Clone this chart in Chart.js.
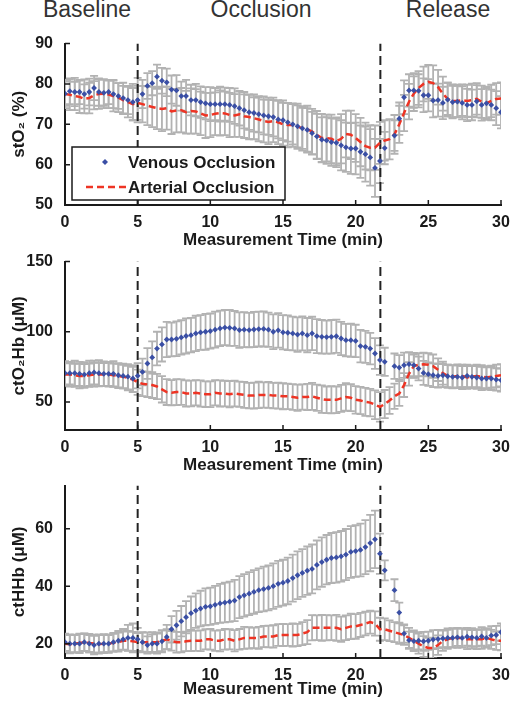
<!DOCTYPE html>
<html>
<head>
<meta charset="utf-8">
<title>Occlusion NIRS</title>
<script src="https://cdn.jsdelivr.net/npm/chart.js"></script>
<style>
  body { margin: 0; background: #fff; width: 510px; height: 701px; position: relative; overflow: hidden; }
  .phase { position: absolute; top: -2px; font: 23px "Liberation Sans", Arial, sans-serif; color: #333; line-height: 22px; white-space: nowrap; transform: translateX(-50%); }
  canvas { position: absolute; left: 0; }
</style>
</head>
<body>
<div class="phase" style="left:87px">Baseline</div>
<div class="phase" style="left:261px">Occlusion</div>
<div class="phase" style="left:448px">Release</div>
<canvas id="stChart" width="510" height="221" style="top:30px"></canvas>
<canvas id="o2Chart" width="510" height="228" style="top:248px"></canvas>
<canvas id="hhChart" width="510" height="228" style="top:472px"></canvas>
<script>
// measurement time (min)
const time = [
  0, 0.33, 0.67, 1, 1.33, 1.67, 2, 2.33, 2.67, 3, 3.33, 3.67, 4, 4.33, 4.67,
  5, 5.33, 5.67, 6, 6.33, 6.67, 7, 7.33, 7.67, 8, 8.33, 8.67, 9, 9.33, 9.67,
  10, 10.33, 10.67, 11, 11.33, 11.67, 12, 12.33, 12.67, 13, 13.33, 13.67, 14, 14.33, 14.67,
  15, 15.33, 15.67, 16, 16.33, 16.67, 17, 17.33, 17.67, 18, 18.33, 18.67, 19, 19.33, 19.67,
  20, 20.33, 20.67, 21, 21.33, 21.67, 22, 22.33, 22.67, 23, 23.33, 23.67, 24, 24.33, 24.67,
  25, 25.33, 25.67, 26, 26.33, 26.67, 27, 27.33, 27.67, 28, 28.33, 28.67, 29, 29.33, 29.67,
  30
];
const phaseLines = [5, 21.7];
const xTicks = [0, 5, 10, 15, 20, 25, 30];

// stO2 (%)
const stVen = [
  77.6, 78.2, 78.0, 78.0, 77.5, 78.0, 79.0, 78.0, 77.8, 78.0, 77.5, 77.0, 76.5, 76.0, 75.5,
  76.0, 77.5, 79.5, 80.2, 81.8, 80.8, 80.4, 78.6, 78.4, 77.0, 77.0, 76.0, 76.0, 75.5, 75.2,
  75.0, 75.0, 75.0, 75.0, 74.8, 74.5, 74.0, 73.5, 73.0, 72.8, 72.5, 72.2, 72.0, 71.8, 71.2,
  71.0, 70.5, 70.0, 69.5, 69.0, 68.6, 67.8, 67.0, 66.2, 66.0, 65.6, 65.4, 64.8, 64.3, 64.0,
  64.0, 63.2, 62.6, 61.8, 59.2, 60.9, 64.1, null, 67.2, 71.4, 76.7, 78.4, 78.4, 78.3, 77.2,
  77.2, 75.9, 76.0, 75.3, 76.1, 75.5, 75.6, 75.3, 74.8, 74.8, 75.7, 74.8, 75.2, 74.8, 74.0,
  73.0
];
const stArt = [
  77.5, 77.3, 77.0, 76.8, 76.3, 76.5, 77.2, 77.5, 77.6, 77.4, 77.0, 76.6, 76.0, 75.5, 75.0,
  75.3, 75.0, 74.6, 74.3, 74.0, 73.8, 74.0, 73.2, 73.4, 73.5, 73.0, 73.3, 73.2, 72.7, 72.2,
  72.3, 72.6, 72.8, 72.7, 72.3, 72.2, 72.5, 72.0, 71.8, 71.5, 71.2, 70.8, 70.6, 70.8, 70.5,
  70.0, 69.8, 69.8, 69.5, 69.0, 68.8, 68.2, 67.4, 66.6, 66.6, 66.4, 65.8, 66.4, 67.6, 67.4,
  66.6, 65.6, 64.6, 64.2, 64.2, 65.4, 66.0, 66.3, 67.5, 70.0, 72.8, 75.6, 77.6, 79.0, 80.0,
  80.5, 80.2, 79.2, 77.6, 76.3, 75.8, 75.8, 76.0, 75.8, 76.0, 76.3, 75.6, 75.2, 75.8, 76.3,
  76.4
];
const stVenErr = [
  3.0, 3.2, 3.5, 3.0, 3.6, 3.3, 3.0, 3.4, 3.2, 3.0, 3.5, 3.2, 3.8, 3.5, 4.5,
  5.5, 3.5, 3.2, 3.0, 3.0, 3.2, 3.4, 3.5, 3.8, 3.6, 4.0, 3.8, 4.0, 3.9, 4.0,
  4.2, 4.0, 4.3, 4.1, 4.2, 4.4, 4.3, 4.5, 4.4, 4.6, 4.5, 4.7, 4.6, 4.8, 4.7,
  4.9, 4.8, 5.0, 5.2, 5.1, 5.4, 5.3, 5.6, 5.5, 5.8, 5.9, 6.0, 6.2, 6.1, 6.3,
  6.4, 6.5, 6.8, 7.0, 7.2, 5.5, 4.0, null, 3.8, 4.0, 4.2, 4.0, 4.3, 4.1, 4.2,
  4.0, 4.2, 4.1, 4.0, 4.2, 4.0, 3.9, 4.1, 4.0, 3.8, 4.0, 3.9, 4.1, 3.8, 4.2,
  4.0
];
const stArtErr = [
  3.5, 3.8, 3.5, 4.0, 3.6, 3.8, 3.5, 3.7, 3.6, 3.4, 3.8, 3.6, 3.5, 3.8, 4.0,
  4.2, 4.5, 4.8, 5.0, 5.2, 5.5, 5.3, 5.6, 5.4, 5.5, 5.3, 5.6, 5.5, 5.4, 5.6,
  5.5, 5.3, 5.6, 5.4, 5.5, 5.3, 5.6, 5.4, 5.5, 5.2, 5.4, 5.3, 5.5, 5.2, 5.4,
  5.3, 5.5, 5.4, 5.6, 5.5, 5.8, 5.6, 5.9, 6.0, 5.8, 6.0, 5.9, 6.1, 5.8, 6.0,
  5.9, 6.0, 5.8, 5.6, 5.5, 5.2, 5.0, 5.0, 4.8, 4.6, 4.5, 4.4, 4.3, 4.2, 4.3,
  4.2, 4.4, 4.3, 4.2, 4.0, 4.1, 4.0, 3.9, 4.0, 4.1, 3.9, 4.0, 3.8, 4.0, 3.9,
  4.0
];

// ctO2Hb (uM)
const o2Ven = [
  70.5, 70.5, 70.5, 70.0, 69.5, 70.5, 71.0, 70.5, 70.0, 70.0, 70.0, 69.0, 68.5, 68.0, 66.7,
  68.6, 71.4, 77.4, 81.7, 88.0, 91.0, 94.5, 94.5, 95.0, 96.0, 97.0, 97.6, 98.8, 99.5, 100.0,
  100.5, 101.5, 102.4, 103.0, 102.8, 102.4, 101.2, 101.5, 101.2, 101.6, 101.9, 102.0, 101.5, 100.0, 101.0,
  99.6, 99.3, 98.8, 98.0, 98.8, 97.6, 98.8, 96.9, 96.4, 96.2, 96.4, 96.8, 95.2, 94.0, 94.0,
  93.5, 89.8, 89.3, 88.0, 84.5, 79.8, 78.6, null, 75.5, 74.5, 76.2, 76.9, 76.2, 73.8, 70.7,
  69.8, 69.0, 68.6, 69.0, 68.3, 67.9, 67.9, 67.4, 68.6, 67.9, 67.4, 66.7, 66.7, 66.7, 66.0,
  65.5
];
const o2Art = [
  69.5, 69.5, 69.0, 68.5, 68.5, 69.0, 69.5, 69.5, 69.5, 69.5, 69.0, 68.5, 68.0, 67.0, 66.0,
  64.0, 63.0, 62.5, 62.0, 61.0, 59.0, 57.0, 56.5, 57.0, 57.0, 56.0, 56.0, 56.5, 56.0, 55.5,
  55.5, 56.5, 56.0, 56.0, 55.5, 56.0, 55.5, 55.0, 54.5, 54.5, 55.0, 55.0, 55.0, 54.5, 54.5,
  54.0, 54.0, 53.5, 53.0, 53.5, 53.5, 54.0, 53.0, 52.0, 51.5, 51.5, 51.5, 52.5, 53.5, 53.0,
  51.5, 51.0, 50.0, 49.5, 48.0, 46.5, 48.5, 51.0, 54.0, 56.0, 62.0, 70.0, 75.5, 76.5, 76.8,
  76.5, 75.5, 73.0, 70.5, 68.5, 68.0, 68.5, 68.5, 67.5, 68.0, 68.5, 68.0, 67.5, 68.0, 68.5,
  69.0
];
const o2VenErr = [
  8.5, 8.0, 9.0, 8.5, 8.8, 9.0, 8.5, 9.2, 8.8, 8.5, 9.0, 8.6, 8.8, 9.0, 9.5,
  9.0, 9.5, 11.0, 11.5, 12.0, 12.2, 12.5, 12.0, 12.4, 12.2, 12.5, 12.3, 12.6, 12.4, 12.8,
  12.5, 12.8, 12.6, 12.5, 12.8, 12.4, 12.6, 12.5, 12.3, 12.6, 12.4, 12.5, 12.2, 12.4, 12.3,
  12.2, 12.4, 12.0, 12.3, 12.1, 12.2, 11.9, 12.1, 12.0, 11.8, 12.0, 11.8, 11.9, 11.6, 11.8,
  11.5, 11.6, 11.4, 11.2, 11.0, 10.5, 10.0, null, 9.0, 8.8, 9.0, 8.6, 8.8, 8.5, 8.6,
  8.4, 8.5, 8.3, 8.4, 8.2, 8.3, 8.1, 8.2, 8.0, 8.2, 8.1, 8.3, 8.0, 8.2, 8.0,
  8.2
];
const o2ArtErr = [
  8.0, 8.5, 8.2, 8.8, 8.5, 8.3, 8.6, 8.4, 8.2, 8.5, 8.3, 8.6, 8.4, 8.8, 9.0,
  9.0, 8.8, 9.0, 9.2, 9.0, 9.4, 9.2, 9.0, 9.3, 9.1, 9.4, 9.2, 9.0, 9.3, 9.1,
  9.2, 9.0, 9.3, 9.1, 9.4, 9.2, 9.0, 9.3, 9.1, 9.2, 9.4, 9.0, 9.3, 9.1, 9.2,
  9.3, 9.1, 9.2, 9.4, 9.0, 9.3, 9.6, 9.4, 9.8, 9.5, 9.7, 9.5, 9.6, 9.8, 9.6,
  9.8, 9.7, 10.0, 9.8, 10.2, 10.5, 10.0, 9.5, 9.0, 8.8, 8.5, 8.4, 8.3, 8.2, 8.4,
  8.2, 8.3, 8.1, 8.2, 8.0, 8.1, 8.2, 8.0, 8.1, 7.9, 8.0, 8.2, 8.0, 7.9, 8.1,
  8.0
];

// ctHHb (uM)
const hhVen = [
  20.5, 20.0, 20.0, 20.0, 20.5, 20.0, 19.5, 20.0, 20.0, 20.0, 20.5, 21.0, 21.5, 22.0, 22.0,
  21.5, 20.5, 19.5, 20.0, 20.0, 20.8, 22.3, 25.0, 26.4, 27.8, 29.2, 30.6, 31.5, 32.2, 32.8,
  33.0, 33.5, 34.0, 34.3, 34.6, 35.0, 36.2, 36.8, 37.4, 38.0, 38.6, 39.0, 39.4, 40.0, 40.8,
  41.2, 41.8, 42.8, 43.8, 44.6, 45.4, 46.0, 47.4, 48.4, 49.2, 49.8, 50.0, 50.4, 51.0, 51.9,
  52.2, 52.6, 53.6, 55.0, 56.3, 51.3, 45.5, null, 38.6, 30.8, 23.5, 21.2, 20.9, 21.0, 20.8,
  21.0, 21.4, 21.6, 21.8, 22.0, 22.0, 22.2, 22.0, 22.4, 22.2, 22.0, 22.5, 22.0, 22.8, 23.0,
  24.0
];
const hhArt = [
  20.0, 19.8, 20.0, 20.2, 20.5, 20.2, 20.0, 19.8, 20.0, 20.0, 20.3, 20.5, 21.0, 21.0, 20.8,
  20.5, 20.5, 20.5, 20.5, 20.5, 21.0, 21.5, 21.0, 20.5, 20.5, 20.8, 21.0, 21.0, 21.0, 21.5,
  21.5, 21.0, 21.0, 21.5, 21.5, 21.0, 21.5, 22.0, 22.0, 22.0, 22.0, 22.5, 22.5, 22.5, 23.0,
  23.0, 23.0, 23.0, 23.0, 23.5, 24.0, 25.5, 25.5, 25.5, 25.5, 25.5, 25.5, 25.0, 25.5, 26.0,
  26.0, 26.5, 27.0, 27.5, 27.0, 25.0, 25.0, 24.5, 24.0, 23.5, 23.0, 22.0, 21.0, 20.0, 19.0,
  18.5, 18.5, 19.5, 21.0, 21.5, 22.0, 22.0, 22.0, 21.5, 21.5, 21.5, 21.5, 22.0, 21.5, 21.0,
  21.0
];
const hhVenErr = [
  3.0, 3.2, 3.0, 3.3, 3.1, 3.0, 3.2, 3.1, 3.3, 3.0, 3.2, 3.4, 3.6, 4.5, 5.0,
  4.0, 3.5, 3.0, 3.2, 3.5, 3.8, 4.2, 4.6, 5.0, 5.3, 5.6, 5.8, 6.0, 6.2, 6.4,
  6.5, 6.6, 6.8, 6.9, 7.0, 7.2, 7.3, 7.4, 7.5, 7.6, 7.6, 7.8, 7.8, 7.9, 8.0,
  8.0, 8.1, 8.2, 8.3, 8.3, 8.4, 8.5, 8.5, 8.6, 8.6, 8.7, 8.8, 8.8, 8.9, 9.0,
  9.0, 9.2, 9.4, 9.8, 10.0, 7.0, 3.5, null, 3.8, 3.5, 3.2, 3.0, 3.2, 3.0, 3.3,
  3.2, 3.3, 3.2, 3.0, 3.3, 3.2, 3.0, 3.3, 3.1, 3.2, 3.0, 3.2, 3.1, 3.3, 3.2,
  3.0
];
const hhArtErr = [
  3.0, 3.2, 3.1, 3.3, 3.0, 3.2, 3.1, 3.3, 3.0, 3.2, 3.1, 3.3, 3.2, 3.4, 3.3,
  3.2, 3.3, 3.4, 3.5, 3.4, 3.6, 3.5, 3.4, 3.6, 3.5, 3.4, 3.6, 3.5, 3.6, 3.5,
  3.6, 3.5, 3.7, 3.6, 3.5, 3.7, 3.6, 3.8, 3.7, 3.6, 3.8, 3.7, 3.8, 3.9, 3.8,
  3.9, 3.8, 4.0, 3.9, 4.0, 4.2, 4.4, 4.3, 4.5, 4.4, 4.3, 4.5, 4.4, 4.3, 4.4,
  4.3, 4.2, 4.1, 4.0, 4.2, 4.0, 3.8, 3.6, 3.5, 3.6, 3.4, 3.5, 3.6, 3.5, 3.6,
  3.5, 3.6, 3.4, 3.5, 3.3, 3.4, 3.5, 3.3, 3.4, 3.2, 3.4, 3.3, 3.4, 3.3, 3.2,
  3.3
];

const FONT = '"Liberation Sans", Arial, sans-serif';
const BLUE = '#3a4fa5';
const RED = '#ee3424';
const GREY = '#b2b2b2';
const INK = '#1a1a1a';

const pts = vals => time.map((t, i) => ({ x: t, y: vals[i] }));

// grey error bars under the means
const errorBars = {
  id: 'errorBars',
  beforeDatasetsDraw(chart) {
    const { ctx, chartArea: a, scales: { x, y } } = chart;
    ctx.save();
    ctx.beginPath();
    ctx.rect(a.left, a.top, a.width, a.height);
    ctx.clip();
    ctx.strokeStyle = GREY;
    ctx.lineWidth = 1.8;
    chart.data.datasets.forEach(ds => {
      if (!ds.errors) return;
      ds.data.forEach((p, i) => {
        const e = ds.errors[i];
        if (p.y == null || e == null) return;
        const px = x.getPixelForValue(p.x);
        const top = y.getPixelForValue(p.y + e);
        const bot = y.getPixelForValue(p.y - e);
        ctx.beginPath();
        ctx.moveTo(px, top); ctx.lineTo(px, bot);
        ctx.moveTo(px - 4, top); ctx.lineTo(px + 4, top);
        ctx.moveTo(px - 4, bot); ctx.lineTo(px + 4, bot);
        ctx.stroke();
      });
    });
    ctx.restore();
  }
};

// matlab style ticks pointing into the plot
const innerTicks = {
  id: 'innerTicks',
  afterDraw(chart) {
    const { ctx, chartArea: a, scales: { x, y } } = chart;
    ctx.save();
    ctx.strokeStyle = INK;
    ctx.lineWidth = 1.5;
    ctx.beginPath();
    x.ticks.forEach(t => {
      const px = x.getPixelForValue(t.value);
      ctx.moveTo(px, a.bottom); ctx.lineTo(px, a.bottom - 5);
    });
    y.ticks.forEach(t => {
      const py = y.getPixelForValue(t.value);
      ctx.moveTo(a.left, py); ctx.lineTo(a.left + 5, py);
    });
    ctx.stroke();
    ctx.restore();
  }
};

// boxed legend in the lower left of the top panel
const boxLegend = {
  id: 'boxLegend',
  afterDatasetsDraw(chart) {
    const { ctx, chartArea: a } = chart;
    const ven = chart.data.datasets[0], art = chart.data.datasets[1];
    const bx = a.left + 7, by = a.bottom - 58, bw = 213, bh = 53;
    ctx.save();
    ctx.fillStyle = '#fff';
    ctx.fillRect(bx, by, bw, bh);
    ctx.strokeStyle = INK;
    ctx.lineWidth = 1.5;
    ctx.strokeRect(bx, by, bw, bh);
    // venous marker
    const my = by + 15;
    ctx.fillStyle = BLUE;
    ctx.beginPath();
    ctx.moveTo(bx + 33, my - 3); ctx.lineTo(bx + 36, my); ctx.lineTo(bx + 33, my + 3); ctx.lineTo(bx + 30, my);
    ctx.closePath();
    ctx.fill();
    // arterial dashes
    const ly = by + 40;
    ctx.strokeStyle = RED;
    ctx.lineWidth = 2.5;
    ctx.setLineDash([7, 4]);
    ctx.beginPath();
    ctx.moveTo(bx + 14, ly); ctx.lineTo(bx + 54, ly);
    ctx.stroke();
    ctx.setLineDash([]);
    ctx.fillStyle = INK;
    ctx.font = 'bold 17px ' + FONT;
    ctx.textBaseline = 'middle';
    ctx.fillText(ven.label, bx + 56, my + 1);
    ctx.fillText(art.label, bx + 56, ly + 1);
    ctx.restore();
  }
};

function makePanel(id, p) {
  const plugins = [errorBars, innerTicks];
  if (p.legend) plugins.push(boxLegend);
  return new Chart(document.getElementById(id), {
    type: 'line',
    data: {
      datasets: [
        {
          label: 'Venous Occlusion',
          data: pts(p.ven),
          errors: p.venErr,
          showLine: false,
          pointStyle: 'rectRot',
          pointRadius: 2.9,
          pointBackgroundColor: BLUE,
          pointBorderWidth: 0
        },
        {
          label: 'Arterial Occlusion',
          data: pts(p.art),
          errors: p.artErr,
          borderColor: RED,
          borderWidth: 2.5,
          borderDash: [7, 4],
          pointRadius: 0,
          tension: 0
        },
        ...phaseLines.map(t => ({
          label: 'phase',
          data: [{ x: t, y: p.min }, { x: t, y: p.max }],
          borderColor: '#222',
          borderWidth: 2,
          borderDash: [9, 5],
          pointRadius: 0
        }))
      ]
    },
    options: {
      responsive: false,
      animation: false,
      devicePixelRatio: 1,
      layout: { padding: { top: 13, right: 9, left: 0, bottom: 0 } },
      plugins: { legend: { display: false }, tooltip: { enabled: false } },
      scales: {
        x: {
          type: 'linear',
          min: 0,
          max: 30,
          afterBuildTicks: s => { s.ticks = xTicks.map(v => ({ value: v })); },
          afterFit: s => { s.height = p.xh; },
          grid: { display: false },
          border: { display: true, color: INK, width: 2 },
          ticks: { color: INK, padding: 0, maxRotation: 0, font: { family: FONT, size: 16, weight: 'bold' } },
          title: { display: true, text: 'Measurement Time (min)', color: INK, padding: { top: 0, bottom: 0 }, font: { family: FONT, size: 17, weight: 'bold' } }
        },
        y: {
          min: p.min,
          max: p.max,
          afterBuildTicks: s => { s.ticks = p.yTicks.map(v => ({ value: v })); },
          afterFit: s => { s.width = 65; },
          grid: { display: false },
          border: { display: true, color: INK, width: 2 },
          ticks: { color: INK, padding: 4, font: { family: FONT, size: 16, weight: 'bold' } },
          title: { display: true, text: p.title, color: INK, padding: { top: 9, bottom: 0 }, font: { family: FONT, size: 17, weight: 'bold' } }
        }
      }
    },
    plugins: plugins
  });
}

makePanel('stChart', {
  ven: stVen, art: stArt, venErr: stVenErr, artErr: stArtErr,
  min: 50, max: 90, yTicks: [50, 60, 70, 80, 90], title: 'stO\u2082 (%)', xh: 46, legend: true
});
makePanel('o2Chart', {
  ven: o2Ven, art: o2Art, venErr: o2VenErr, artErr: o2ArtErr,
  min: 30, max: 150, yTicks: [50, 100, 150], title: 'ctO\u2082Hb (\u03bcM)', xh: 46
});
makePanel('hhChart', {
  ven: hhVen, art: hhArt, venErr: hhVenErr, artErr: hhArtErr,
  min: 15, max: 75, yTicks: [20, 40, 60], title: 'ctHHb (\u03bcM)', xh: 42
});
</script>
</body>
</html>
